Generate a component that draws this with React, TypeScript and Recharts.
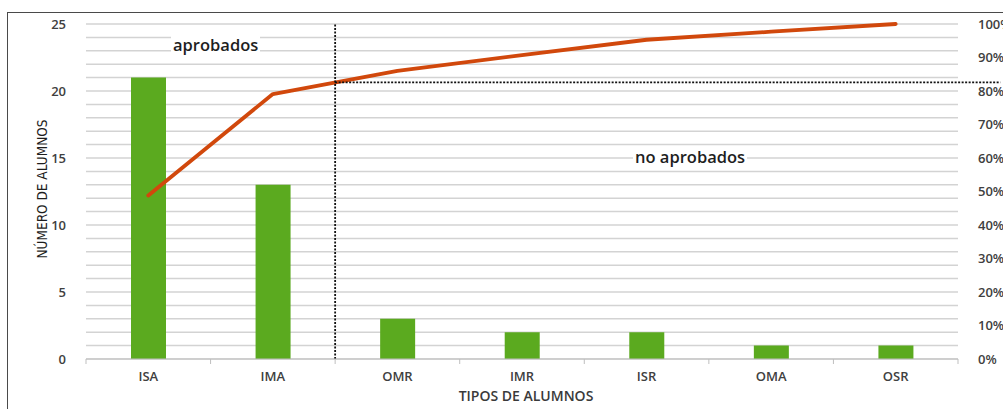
import { Bar, ComposedChart, Line, XAxis, YAxis, CartesianGrid, ReferenceLine } from 'recharts';

const categories = ['ISA', 'IMA', 'OMR', 'IMR', 'ISR', 'OMA', 'OSR'];
const alumnos = [21, 13, 3, 2, 2, 1, 1];
const acumulado = [48.8, 79.1, 86.0, 90.7, 95.3, 97.7, 100];
const leftTicks = [0, 1, 2, 3, 4, 5, 6, 7, 8, 9, 10, 11, 12, 13, 14, 15, 16, 17, 18, 19, 20, 21, 22, 23, 24, 25];
const rightTicks = [0, 10, 20, 30, 40, 50, 60, 70, 80, 90, 100];
const corte = 2; // límite aprobados / no aprobados (entre IMA y OMR)
const cortePct = 82.6;

// pos: centro de cada categoría sobre un eje numérico auxiliar
const data = categories.map((c, i) => ({ tipo: c, pos: i + 0.5, alumnos: alumnos[i], acumulado: acumulado[i] }));

const FONT = '"Open Sans", "Noto Sans", sans-serif';
const COLORS = {
  bar: '#5BAA1F',
  line: '#D1480C',
  grid: '#d3d3d3',
  text: '#404040',
};

const CatTick = (props: any) => {
  const { x, y, payload, index } = props;
  const off = payload.offset ?? 0;
  return (
    <g>
      <line x1={x - off} x2={x - off} y1={y - 8} y2={y - 3} stroke="#bfbfbf" />
      {index === categories.length - 1 && (
        <line x1={x + off} x2={x + off} y1={y - 8} y2={y - 3} stroke="#bfbfbf" />
      )}
      <text x={x} y={y + 14} textAnchor="middle" fontFamily={FONT} fontWeight={600} fontSize={13} fill={COLORS.text}>
        {payload.value}
      </text>
    </g>
  );
};

const zoneLabel = {
  position: 'absolute' as const,
  fontFamily: FONT,
  fontSize: 16.5,
  fontWeight: 600,
  color: '#1e1e1e',
  background: '#fff',
  lineHeight: '20px',
  padding: '0 2px',
};

export default function App() {
  return (
    <div style={{ position: 'absolute', left: 0, top: 0, width: 1003, height: 409, overflow: 'hidden', background: '#fff' }}>
      <div style={{ position: 'absolute', left: 7, top: 12, width: 1020, height: 420, border: '1.5px solid #4a4a4a' }} />
      <ComposedChart
        width={1003}
        height={409}
        data={data}
        margin={{ top: 24, right: 0, left: 0, bottom: 20 }}
        style={{ position: 'absolute', left: 0, top: 0 }}
      >
        <CartesianGrid yAxisId="num" vertical={false} stroke={COLORS.grid} strokeWidth={1.5} />
        <XAxis
          dataKey="tipo"
          height={30}
          axisLine={{ stroke: '#bfbfbf' }}
          tickLine={false}
          tick={<CatTick />}
          interval={0}
        />
        <XAxis
          xAxisId="n"
          dataKey="pos"
          type="number"
          domain={[0, categories.length]}
          allowDataOverflow
          height={0}
          hide
        />
        <YAxis
          yAxisId="num"
          width={86}
          domain={[0, 25]}
          ticks={leftTicks}
          interval={0}
          axisLine={false}
          tickLine={false}
          tickMargin={14}
          tickFormatter={(v: number) => (v % 5 === 0 ? String(v) : '')}
          tick={{ fontFamily: FONT, fontWeight: 600, fontSize: 13, fill: COLORS.text }}
        />
        <YAxis
          yAxisId="pct"
          orientation="right"
          width={45}
          domain={[0, 100]}
          ticks={rightTicks}
          interval={0}
          axisLine={false}
          tickLine={false}
          tickMargin={14}
          tickFormatter={(v: number) => `${v}%`}
          tick={{ fontFamily: FONT, fontWeight: 600, fontSize: 13, fill: COLORS.text, textAnchor: 'start' }}
        />
        <Bar yAxisId="num" dataKey="alumnos" fill={COLORS.bar} barSize={35} isAnimationActive={false} />
        <Line
          yAxisId="pct"
          dataKey="acumulado"
          type="linear"
          stroke={COLORS.line}
          strokeWidth={3.8}
          strokeLinejoin="round"
          strokeLinecap="round"
          dot={false}
          isAnimationActive={false}
        />
        <ReferenceLine
          xAxisId="n"
          yAxisId="pct"
          x={corte}
          stroke="#111"
          strokeWidth={1.8}
          strokeDasharray="2 1.5"
        />
        <ReferenceLine
          xAxisId="n"
          yAxisId="pct"
          ifOverflow="visible"
          segment={[{ x: corte, y: cortePct }, { x: 7.34, y: cortePct }]}
          stroke="#111"
          strokeWidth={1.8}
          strokeDasharray="2 1.5"
        />
      </ComposedChart>
      <div style={{ ...zoneLabel, left: 171, top: 35 }}>aprobados</div>
      <div style={{ ...zoneLabel, left: 633, top: 147 }}>no aprobados</div>
      <div
        style={{
          position: 'absolute',
          left: 0,
          top: 386,
          width: 1052,
          textAlign: 'center',
          fontFamily: FONT,
          fontSize: 14,
          fontWeight: 600,
          color: '#3a3a3a',
        }}
      >
        TIPOS DE ALUMNOS
      </div>
      <div
        style={{
          position: 'absolute',
          left: 42,
          top: 189,
          transform: 'translate(-50%, -50%) rotate(-90deg)',
          whiteSpace: 'nowrap',
          fontFamily: '"Liberation Sans Narrow", "DejaVu Sans Condensed", sans-serif',
          fontSize: 13.5,
          color: '#1e1e1e',
        }}
      >
        NÚMERO DE ALUMNOS
      </div>
    </div>
  );
}
